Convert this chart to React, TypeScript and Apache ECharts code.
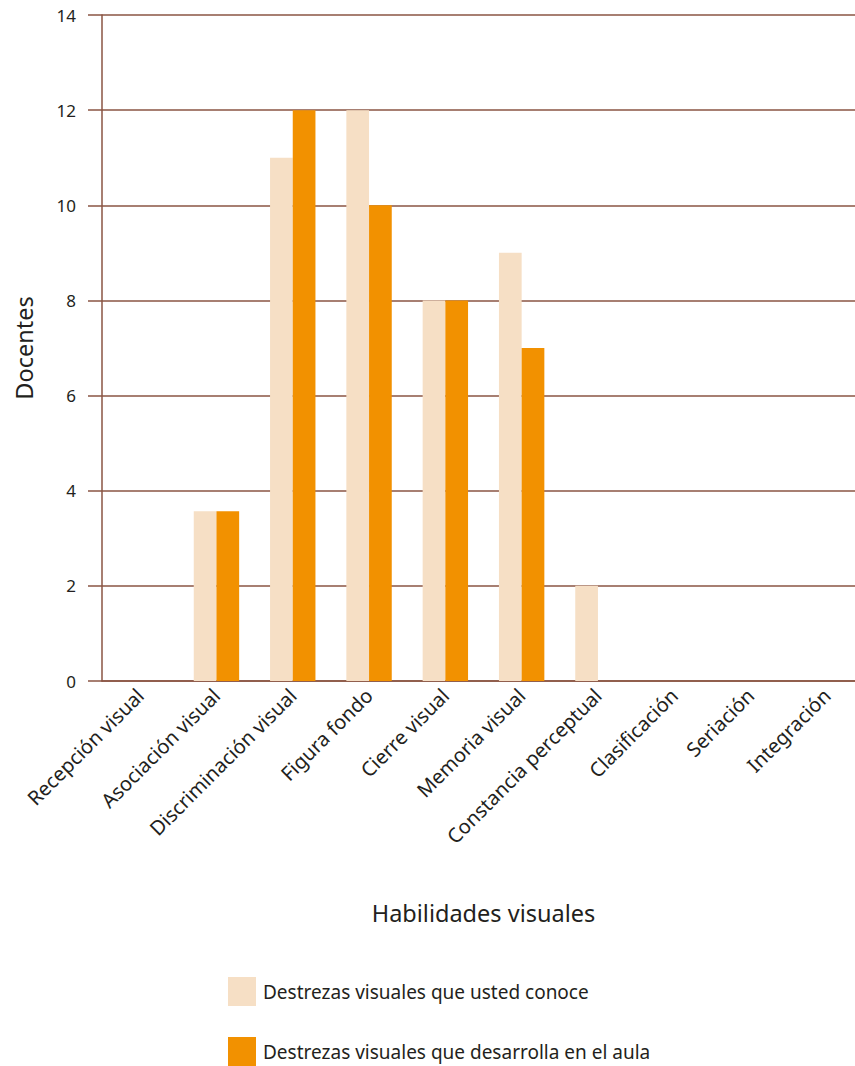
import React, { useEffect, useRef } from "react";
import * as echarts from "echarts";

const categories = [
  "Recepción visual",
  "Asociación visual",
  "Discriminación visual",
  "Figura fondo",
  "Cierre visual",
  "Memoria visual",
  "Constancia perceptual",
  "Clasificación",
  "Seriación",
  "Integración",
];
const conoce = [0, 3.57, 11, 12, 8, 9, 2, 0, 0, 0];
const desarrolla = [0, 3.57, 12, 10, 8, 7, 0, 0, 0, 0];
const seriesNames = [
  "Destrezas visuales que usted conoce",
  "Destrezas visuales que desarrolla en el aula",
];

const BROWN = "#8a5443";
const TEXT = "#231f20";
const FONT = "Noto Sans";

export default function App() {
  const ref = useRef<HTMLDivElement>(null);
  useEffect(() => {
    const chart = echarts.init(ref.current!, null, { renderer: "svg" });
    const legendBase = {
      orient: "vertical",
      left: 228,
      itemWidth: 28,
      itemHeight: 29,
      icon: "rect",
      itemGap: 0,
      padding: 0,
      textStyle: { fontSize: 19, color: TEXT, fontFamily: FONT, padding: [0, 0, 0, 2] },
    };
    chart.setOption({
      animation: false,
      textStyle: { fontFamily: FONT, color: TEXT },
      grid: { left: 102, right: 0, top: 15, bottom: 385, containLabel: false },
      legend: [
        { ...legendBase, top: 977, data: [seriesNames[0]] },
        { ...legendBase, top: 1037, data: [seriesNames[1]] },
      ],
      xAxis: {
        type: "category",
        data: categories,
        name: "Habilidades visuales",
        nameLocation: "middle",
        nameGap: 220,
        nameTextStyle: { fontSize: 23.5, color: TEXT, fontFamily: FONT },
        axisLine: { show: true, lineStyle: { color: BROWN, width: 1.5 } },
        axisTick: { show: false },
        axisLabel: {
          rotate: 45,
          margin: 11,
          fontSize: 20,
          color: TEXT,
          fontFamily: FONT,
          interval: 0,
        },
        splitLine: { show: false },
      },
      yAxis: {
        type: "value",
        min: 0,
        max: 14,
        interval: 2,
        name: "Docentes",
        nameLocation: "middle",
        nameGap: 66,
        nameRotate: 90,
        nameTextStyle: { fontSize: 23.5, color: TEXT, fontFamily: FONT },
        axisLine: { show: true, lineStyle: { color: BROWN, width: 1.5 } },
        axisTick: { show: true, inside: false, length: 14, lineStyle: { color: BROWN, width: 1.5 } },
        axisLabel: { margin: 26, fontSize: 17, color: TEXT, fontFamily: FONT },
        splitLine: { show: true, lineStyle: { color: BROWN, width: 1.5 } },
      },
      series: [
        {
          name: seriesNames[0],
          type: "bar",
          data: conoce,
          barWidth: 22.7,
          barGap: "0%",
          itemStyle: { color: "#f6dfc5" },
        },
        {
          name: seriesNames[1],
          type: "bar",
          data: desarrolla,
          barWidth: 22.7,
          barGap: "0%",
          itemStyle: { color: "#f29100" },
        },
      ],
    });
    return () => chart.dispose();
  }, []);
  return (
    <div
      style={{ position: "absolute", left: 0, top: 0, width: 855, height: 1066, overflow: "hidden", background: "#fff" }}
    >
      <div ref={ref} style={{ width: 865, height: 1066 }} />
    </div>
  );
}
